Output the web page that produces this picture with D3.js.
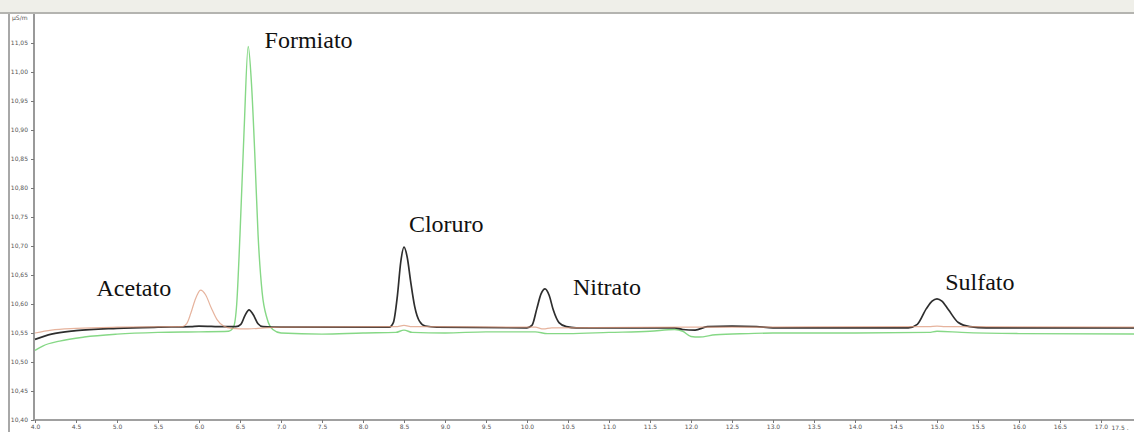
<!DOCTYPE html>
<html>
<head>
<meta charset="utf-8">
<script src="https://cdn.jsdelivr.net/npm/d3@7"></script>
<style>
  html, body { margin: 0; padding: 0; overflow: hidden; background: #fff; }
  #chart svg { display: block; }
</style>
</head>
<body>
<div id="chart"></div>
<script>
/* values: [time (min), conductivity (µS/m)] */
const blackTrace = [
  [4.0, 10.539], [4.2, 10.548], [4.5, 10.554], [5.0, 10.558], [5.5, 10.560], [5.9, 10.561],
  [6.0, 10.562], [6.3, 10.561], [6.45, 10.561], [6.51, 10.565], [6.56, 10.580], [6.61, 10.590],
  [6.66, 10.582], [6.72, 10.566], [6.78, 10.561], [7.0, 10.560], [8.0, 10.560], [8.32, 10.560],
  [8.37, 10.568], [8.42, 10.615], [8.46, 10.672], [8.50, 10.698], [8.54, 10.680], [8.58, 10.640],
  [8.63, 10.596], [8.69, 10.570], [8.76, 10.562], [8.9, 10.560], [10.0, 10.559], [10.06, 10.563],
  [10.12, 10.592], [10.17, 10.617], [10.22, 10.626], [10.27, 10.615], [10.32, 10.590],
  [10.39, 10.568], [10.48, 10.561], [10.6, 10.559], [11.8, 10.559], [11.9, 10.556], [12.05, 10.555],
  [12.2, 10.561], [12.5, 10.562], [12.8, 10.561], [13.0, 10.559], [14.65, 10.559], [14.76, 10.565],
  [14.87, 10.592], [14.94, 10.605], [15.0, 10.609], [15.06, 10.605], [15.14, 10.590],
  [15.26, 10.568], [15.4, 10.561], [15.6, 10.559], [17.75, 10.559]
];
const orangeTrace = [
  [4.0, 10.550], [4.2, 10.555], [4.5, 10.558], [5.0, 10.560], [5.8, 10.561], [5.85, 10.566],
  [5.9, 10.584], [5.95, 10.606], [6.02, 10.624], [6.08, 10.616], [6.15, 10.593], [6.22, 10.573],
  [6.30, 10.562], [6.4, 10.558], [6.6, 10.557], [6.8, 10.559], [7.0, 10.560], [8.4, 10.561],
  [8.5, 10.563], [8.6, 10.561], [10.1, 10.560], [10.2, 10.557], [10.3, 10.559], [12.0, 10.560],
  [14.9, 10.561], [15.0, 10.562], [15.1, 10.561], [17.75, 10.560]
];
const greenTrace = [
  [4.0, 10.520], [4.1, 10.528], [4.3, 10.536], [4.6, 10.543], [5.0, 10.548], [5.5, 10.551],
  [6.0, 10.552], [6.36, 10.553], [6.42, 10.560], [6.46, 10.600], [6.50, 10.720], [6.55, 10.900],
  [6.60, 11.044], [6.64, 10.980], [6.68, 10.860], [6.72, 10.720], [6.77, 10.620], [6.83, 10.575],
  [6.90, 10.556], [7.0, 10.550], [7.5, 10.548], [8.0, 10.550], [8.4, 10.551], [8.5, 10.555],
  [8.6, 10.551], [9.0, 10.550], [9.5, 10.552], [10.1, 10.552], [10.25, 10.549], [10.5, 10.549],
  [11.0, 10.551], [11.5, 10.553], [11.8, 10.556], [11.9, 10.553], [12.0, 10.544], [12.1, 10.543],
  [12.3, 10.547], [12.7, 10.549], [13.0, 10.550], [14.0, 10.550], [14.9, 10.551], [15.0, 10.553],
  [15.3, 10.551], [16.0, 10.549], [17.75, 10.548]
];

const peakNames = ["Acetato", "Formiato", "Cloruro", "Nitrato", "Sulfato"];
/* where each name starts (time) and its baseline (µS/m) */
const peakLabelAt = [[4.75, 10.613], [6.80, 11.041], [8.56, 10.725], [10.56, 10.616], [15.10, 10.625]];

const xTicks = [4.0, 4.5, 5.0, 5.5, 6.0, 6.5, 7.0, 7.5, 8.0, 8.5, 9.0, 9.5, 10.0, 10.5, 11.0,
  11.5, 12.0, 12.5, 13.0, 13.5, 14.0, 14.5, 15.0, 15.5, 16.0, 16.5, 17.0];
const yTickValues = [10.40, 10.45, 10.50, 10.55, 10.60, 10.65, 10.70, 10.75, 10.80, 10.85, 10.90, 10.95, 11.00, 11.05];

const width = 1134, height = 432;

const svg = d3.select("#chart").append("svg")
  .attr("width", width)
  .attr("height", height);

/* window chrome */
svg.append("rect").attr("x", 0).attr("y", 0).attr("width", width).attr("height", 12).attr("fill", "#efefe9");
svg.append("rect").attr("x", 0).attr("y", 12).attr("width", width).attr("height", 2).attr("fill", "#b4b4b0");
svg.append("rect").attr("x", 8).attr("y", 14).attr("width", 2).attr("height", height - 14).attr("fill", "#a8a8a8");

const x = d3.scaleLinear().domain([4.0, 17.0]).range([35, 1101]);
const y = d3.scaleLinear().domain([10.40, 11.10]).range([420, 14]);

/* y axis */
const yAxis = svg.append("g")
  .attr("transform", "translate(34,0)")
  .call(d3.axisLeft(y).tickValues(yTickValues).tickSize(3).tickPadding(3)
    .tickFormat(d => d3.format(".2f")(d).replace(".", ",")));
yAxis.select(".domain").attr("d", "M0,14V420").attr("stroke", "#555").attr("stroke-width", 1.2);
yAxis.selectAll(".tick line").attr("stroke", "#777");
yAxis.selectAll("text").attr("font-family", "DejaVu Sans, sans-serif").attr("font-size", 6).attr("fill", "#555");

svg.append("text").attr("x", 12).attr("y", 20)
  .attr("font-family", "DejaVu Sans, sans-serif").attr("font-size", 6).attr("fill", "#555")
  .text("µS/m");

/* x axis */
const xAxis = svg.append("g")
  .attr("transform", "translate(0,420)")
  .call(d3.axisBottom(x).tickValues(xTicks).tickSize(3).tickPadding(2).tickFormat(d3.format(".1f")));
xAxis.select(".domain").attr("d", "M34,0H" + width).attr("stroke", "#a0a0a0").attr("stroke-width", 2);
xAxis.selectAll(".tick line").attr("stroke", "#777");
xAxis.selectAll("text").attr("font-family", "DejaVu Sans, sans-serif").attr("font-size", 6).attr("fill", "#555");
svg.append("text").attr("x", 1120).attr("y", 430).attr("text-anchor", "middle")
  .attr("font-family", "DejaVu Sans, sans-serif").attr("font-size", 6).attr("fill", "#555")
  .text("17.5 .");

/* traces */
const line = d3.line().x(d => x(d[0])).y(d => y(d[1])).curve(d3.curveMonotoneX);

svg.append("path").datum(greenTrace).attr("d", line)
  .attr("fill", "none").attr("stroke", "#86d886").attr("stroke-width", 1.4);
svg.append("path").datum(blackTrace).attr("d", line)
  .attr("fill", "none").attr("stroke", "#2e2e2e").attr("stroke-width", 1.7);
svg.append("path").datum(orangeTrace).attr("d", line)
  .attr("fill", "none").attr("stroke", "#dd9a7c").attr("stroke-width", 1.2)
  .attr("stroke-opacity", 0.75);

/* peak names */
svg.selectAll("text.peak").data(peakNames).enter().append("text")
  .attr("class", "peak")
  .attr("x", (d, i) => x(peakLabelAt[i][0]))
  .attr("y", (d, i) => y(peakLabelAt[i][1]))
  .attr("font-family", "Liberation Serif, Times New Roman, serif")
  .attr("font-size", 24)
  .attr("fill", "#111")
  .text(d => d);
</script>
</body>
</html>
